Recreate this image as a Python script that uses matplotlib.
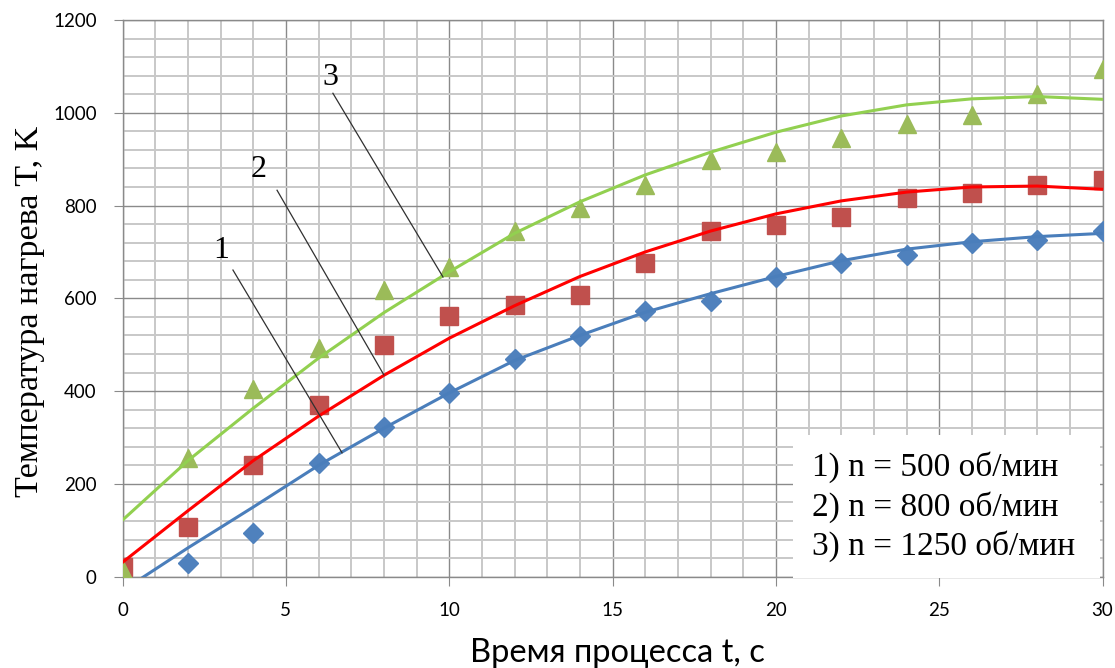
"""
Температура нагрева в зависимости от времени процесса
для трёх частот вращения (точки + полиномиальные линии тренда).
"""
import numpy as np
import matplotlib.pyplot as plt
from matplotlib.patches import Rectangle

# ---------------------------------------------------------------- данные
# экспериментальные точки
t_blue = [2, 4, 6, 8, 10, 12, 14, 16, 18, 20, 22, 24, 26, 28, 30]
T_500 = [30, 95, 245, 322, 395, 470, 519, 572, 594, 647, 677, 694, 719, 726, 746]

t_pts = [0, 2, 4, 6, 8, 10, 12, 14, 16, 18, 20, 22, 24, 26, 28, 30]
T_800 = [20, 107, 240, 369, 499, 562, 585, 608, 676, 746, 757, 775, 817, 826, 845, 856]
T_1250 = [15, 255, 404, 493, 618, 667, 745, 795, 845, 898, 915, 945, 975, 995, 1040, 1095]

# линии тренда
t_trend = [0, 2, 4, 6, 8, 10, 12, 14, 16, 18, 20, 22, 24, 26, 28, 30]
trend_500 = [-30, 62, 150, 240, 320, 396, 466, 520, 570, 610, 647, 681, 706, 722, 733, 740]
trend_800 = [31, 142, 250, 346, 434, 514, 584, 647, 700, 745, 782, 810, 829, 840, 842, 835]
trend_1250 = [122, 250, 363, 471, 569, 657, 740, 808, 866, 915, 958, 993, 1017, 1030, 1035, 1029]

legend_lines = ["1) n = 500 об/мин", "2) n = 800 об/мин", "3) n = 1250 об/мин"]

SERIF = ["Liberation Serif", "DejaVu Serif"]
SANS = ["Lato", "DejaVu Sans"]
GRID_MAJ = "#8a8a8a"
GRID_MIN = "#c8c8c8"

fig = plt.figure(figsize=(11.15, 6.68), dpi=100)
ax = fig.add_axes([0.1099, 0.1367, 0.8789, 0.8334])

# точки
ax.plot(t_blue, T_500, "D", color="#4F81BD", markersize=10.5, zorder=3)
ax.plot(t_pts, T_800, "s", color="#C0504D", markersize=12.5, zorder=3)
ax.plot(t_pts, T_1250, "^", color="#9BBB59", markersize=13.5, zorder=3)

# тренды
ax.plot(t_trend, trend_500, color="#4A7EBB", linewidth=2.2, zorder=3.5)
ax.plot(t_trend, trend_800, color="#FF0000", linewidth=2.2, zorder=3.5)
ax.plot(t_trend, trend_1250, color="#92D050", linewidth=2.2, zorder=3.5)

# выноски 1, 2, 3
ax.plot([3.38, 6.72], [661, 267], color="#303030", linewidth=0.9, zorder=3.6)
ax.plot([4.73, 8.0], [833, 435], color="#303030", linewidth=0.9, zorder=3.6)
ax.plot([6.44, 9.81], [1042, 646], color="#303030", linewidth=0.9, zorder=3.6)
for lab, x, y in [("1", 3.02, 704), ("2", 4.18, 877), ("3", 6.35, 1075)]:
    ax.text(x, y, lab, family=SERIF, fontsize=23, ha="center", va="center", zorder=5)

ax.set_xlim(0, 30)
ax.set_ylim(0, 1200)
ax.set_xticks(np.arange(0, 31, 5))
ax.set_xticks(np.arange(0, 31, 1), minor=True)
ax.set_yticks(np.arange(0, 1201, 200))
ax.set_yticks(np.arange(0, 1201, 40), minor=True)
ax.grid(which="minor", color=GRID_MIN, linewidth=1.4, zorder=0)
ax.grid(which="major", color=GRID_MAJ, linewidth=1.0, zorder=0.5)
ax.set_axisbelow(True)
for s in ax.spines.values():
    s.set_color(GRID_MAJ)
    s.set_linewidth(1.0)
ax.tick_params(which="minor", length=0)
ax.tick_params(which="major", direction="out", length=6.5, color=GRID_MAJ,
               labelsize=13.5, pad=12)
for lbl in ax.get_xticklabels() + ax.get_yticklabels():
    lbl.set_family(SANS)

# белая плашка легенды
ax.add_patch(Rectangle((0.684, -0.003), 0.313, 0.258, transform=ax.transAxes,
                       facecolor="white", edgecolor="none", zorder=4, clip_on=False))
for txt, y in zip(legend_lines, [0.1976, 0.1254, 0.0541]):
    ax.text(0.7036, y, txt, transform=ax.transAxes, family=SERIF, fontsize=24,
            ha="left", va="center", zorder=5)

fig.text(0.0269, 0.5344, "Температура нагрева T, K", family=SERIF, fontsize=24.5,
         rotation=90, ha="center", va="center")
fig.text(0.5534, 0.0225, "Время процесса t, с", family=SANS, fontsize=23.5,
         ha="center", va="center")

fig.savefig("out.png", dpi=100)
